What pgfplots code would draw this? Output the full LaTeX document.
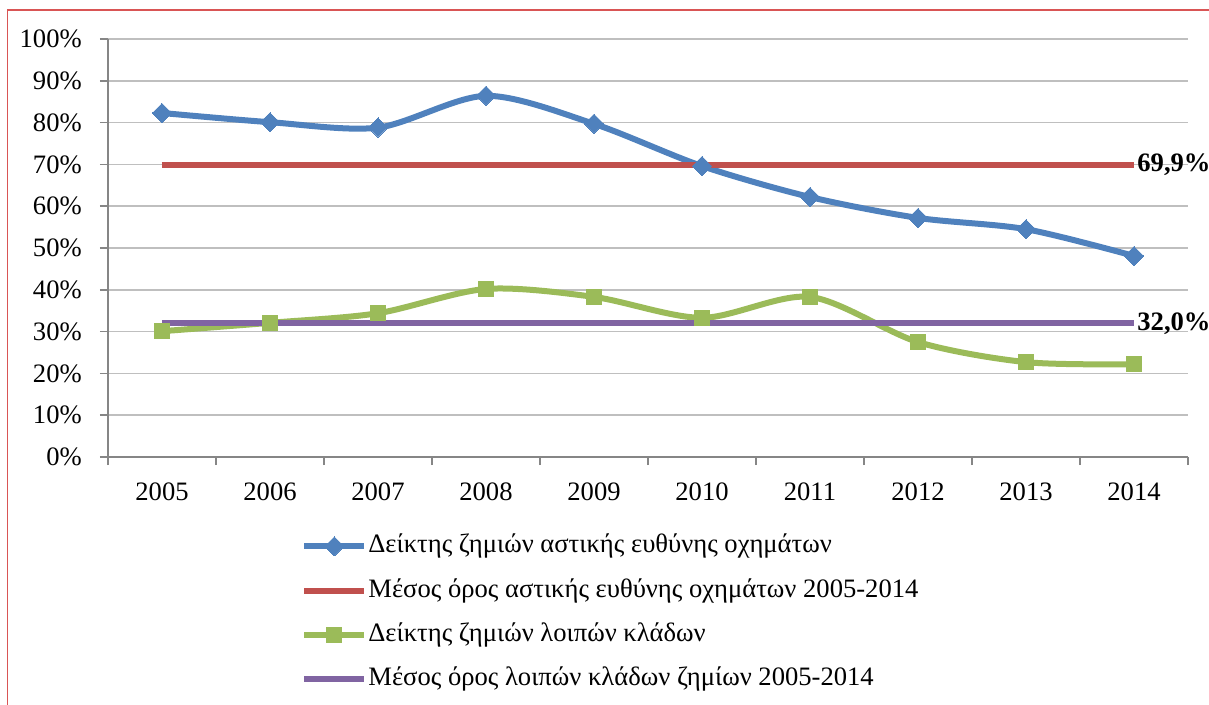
\documentclass[border=0pt]{standalone}
\usepackage{fontspec}
\setmainfont{Liberation Serif}
\usepackage{pgfplots}
\pgfplotsset{compat=1.18}
\definecolor{cblue}{RGB}{79,129,189}
\definecolor{cred}{RGB}{192,80,77}
\definecolor{cgreen}{RGB}{155,187,89}
\definecolor{cpurple}{RGB}{128,100,162}
\definecolor{cborder}{RGB}{217,85,85}
\definecolor{cgrid}{RGB}{191,191,191}
\definecolor{caxis}{RGB}{134,134,134}
\begin{document}
\fontsize{13.3}{16}\selectfont
\begin{tikzpicture}
\useasboundingbox (0,0) rectangle (604.5pt,-352.5pt);
\draw[cborder, line width=0.8pt] (3.8pt,-352.5pt) -- (3.8pt,-5pt) -- (604.5pt,-5pt);
\begin{axis}[
  at={(54pt,-228.5pt)}, anchor=south west,
  width=540pt, height=209pt, scale only axis,
  xmin=-0.5, xmax=9.5, ymin=0, ymax=100,
  axis x line*=bottom, axis y line*=left,
  axis line style={draw=caxis, line width=0.75pt, -},
  clip=false,
  ymajorgrids, grid style={cgrid, line width=0.75pt},
  ytick={0,10,...,100},
  yticklabels={0\%,10\%,20\%,30\%,40\%,50\%,60\%,70\%,80\%,90\%,100\%},
  xtick={0,...,9},
  xticklabels={2005,2006,2007,2008,2009,2010,2011,2012,2013,2014},
  minor xtick={-0.5,0.5,1.5,2.5,3.5,4.5,5.5,6.5,7.5,8.5,9.5},
  tick align=outside,
  major tick length=4pt, minor tick length=4pt,
  major x tick style={draw=none},
  major y tick style={draw=caxis, line width=0.75pt},
  minor x tick style={draw=caxis, line width=0.75pt},
  yticklabel style={xshift=-4.5pt},
  xticklabel style={yshift=-4.4pt},
  legend style={at={(0.1787,-0.178)}, anchor=north west, draw=none, fill=none,
    inner sep=0pt, row sep=7.6pt, column sep=0pt,
    nodes={inner sep=0.5pt, text height=10pt, text depth=3.5pt}},
  legend cell align=left,
  legend image code/.code={\draw[mark repeat=2, mark phase=2, #1] plot coordinates {(0pt,0pt) (15pt,0pt) (30pt,0pt)};},
]
\addplot[cblue, line width=3pt, smooth, mark=square*, mark size=3.4pt, mark options={solid, rotate=45, fill=cblue, line width=0pt}] coordinates {
 (0,82.3) (1,80.1) (2,78.8) (3,86.4) (4,79.7) (5,69.6) (6,62.2) (7,57.2) (8,54.5) (9,48.1)};
\addlegendentry{Δείκτης ζημιών αστικής ευθύνης οχημάτων}
\addplot[cred, line width=3pt] coordinates {(0,69.9) (9,69.9)};
\addlegendentry{Μέσος όρος αστικής ευθύνης οχημάτων 2005-2014}
\addplot[cgreen, line width=3pt, smooth, mark=square*, mark size=3.8pt, mark options={solid, fill=cgreen, line width=0pt}] coordinates {
 (0,30.1) (1,32.1) (2,34.4) (3,40.2) (4,38.3) (5,33.3) (6,38.3) (7,27.5) (8,22.7) (9,22.2)};
\addlegendentry{Δείκτης ζημιών λοιπών κλάδων}
\addplot[cpurple, line width=3pt] coordinates {(0,32.0) (9,32.0)};
\addlegendentry{Μέσος όρος λοιπών κλάδων ζημίων 2005-2014}
\node[anchor=west, inner sep=1.5pt, font=\bfseries] at (axis cs:9,69.9) {69,9\%};
\node[anchor=west, inner sep=1.5pt, font=\bfseries] at (axis cs:9,32.0) {32,0\%};
\end{axis}
\end{tikzpicture}
\end{document}
